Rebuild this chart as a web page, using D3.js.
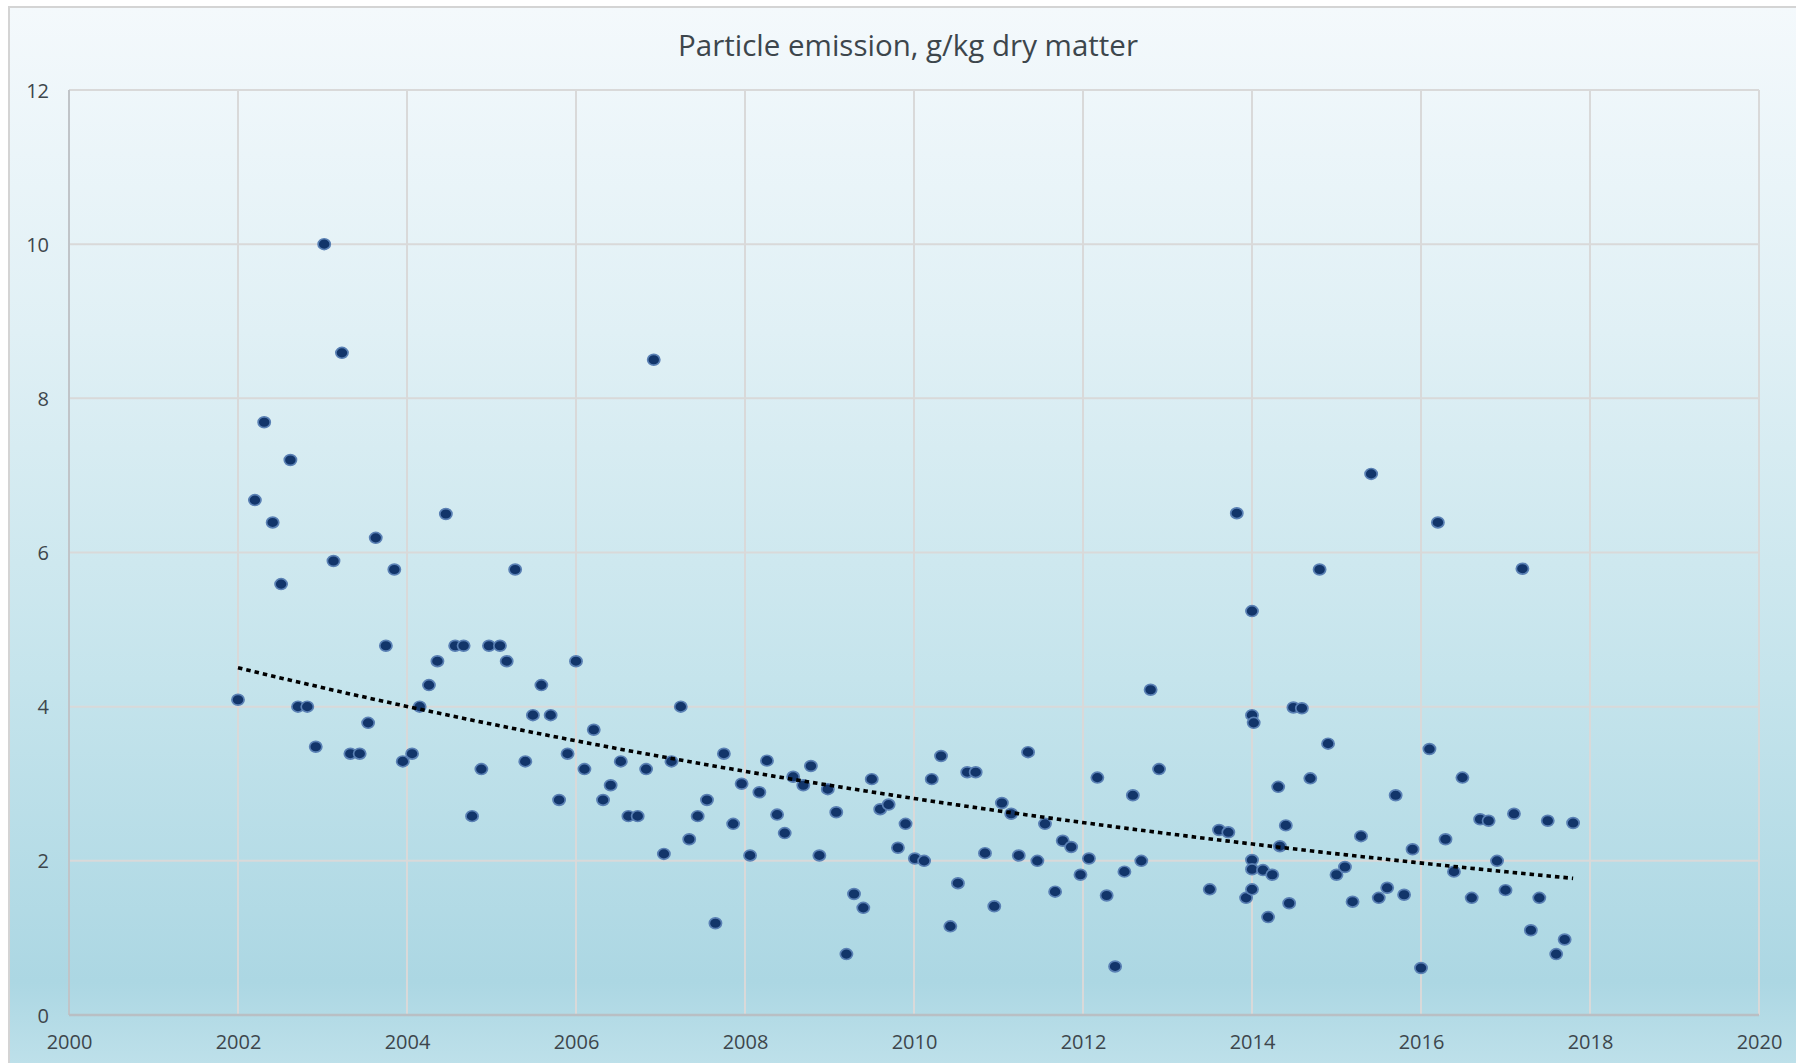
<!DOCTYPE html>
<html>
<head>
<meta charset="utf-8">
<script src="https://cdn.jsdelivr.net/npm/d3@7"></script>
<style>
  html, body { margin: 0; padding: 0; background: #ffffff; }
  svg { display: block; }
</style>
</head>
<body>
<svg id="chart" width="1796" height="1063"></svg>
<script>
// ---------------- DATA ----------------
const chartTitle = "Particle emission, g/kg dry matter";
const xTickLabels = [2000, 2002, 2004, 2006, 2008, 2010, 2012, 2014, 2016, 2018, 2020];
const yTickLabels = [0, 2, 4, 6, 8, 10, 12];

// sample time (decimal year)
const sampleYear = [
  2002.00, 2002.20, 2002.31, 2002.41, 2002.51, 2002.62, 2002.71, 2002.82, 2002.92,
  2003.02, 2003.13, 2003.23, 2003.33, 2003.44, 2003.54, 2003.63, 2003.75, 2003.85, 2003.95,
  2004.06, 2004.15, 2004.26, 2004.36, 2004.46, 2004.57, 2004.67, 2004.77, 2004.88, 2004.97,
  2005.10, 2005.18, 2005.28, 2005.40, 2005.49, 2005.59, 2005.70, 2005.80, 2005.90,
  2006.00, 2006.10, 2006.21, 2006.32, 2006.41, 2006.53, 2006.62, 2006.73, 2006.83, 2006.92,
  2007.04, 2007.13, 2007.24, 2007.34, 2007.44, 2007.55, 2007.65, 2007.75, 2007.86, 2007.96,
  2008.06, 2008.17, 2008.26, 2008.38, 2008.47, 2008.57, 2008.69, 2008.78, 2008.88, 2008.98,
  2009.08, 2009.20, 2009.29, 2009.40, 2009.50, 2009.60, 2009.70, 2009.81, 2009.90,
  2010.01, 2010.12, 2010.21, 2010.32, 2010.43, 2010.52, 2010.63, 2010.73, 2010.84, 2010.95,
  2011.04, 2011.15, 2011.24, 2011.35, 2011.46, 2011.55, 2011.67, 2011.76, 2011.86, 2011.97,
  2012.07, 2012.17, 2012.28, 2012.38, 2012.49, 2012.59, 2012.69, 2012.80, 2012.90,
  2013.50, 2013.61, 2013.72, 2013.82, 2013.93,
  2014.00, 2014.00, 2014.02, 2014.00, 2014.00, 2014.00, 2014.13, 2014.19, 2014.24,
  2014.31, 2014.33, 2014.40, 2014.44, 2014.49, 2014.59, 2014.69, 2014.80, 2014.90,
  2015.00, 2015.10, 2015.19, 2015.29, 2015.41, 2015.50, 2015.60, 2015.70, 2015.80, 2015.90,
  2016.00, 2016.10, 2016.20, 2016.29, 2016.39, 2016.49, 2016.60, 2016.70, 2016.80, 2016.90,
  2017.00, 2017.10, 2017.20, 2017.30, 2017.40, 2017.50, 2017.60, 2017.70, 2017.80
];

// particle emission, g/kg dry matter
const emission = [
  4.09, 6.68, 7.69, 6.39, 5.59, 7.20, 4.00, 4.00, 3.48,
  10.00, 5.89, 8.59, 3.39, 3.39, 3.79, 6.19, 4.79, 5.78, 3.29,
  3.39, 4.00, 4.28, 4.59, 6.50, 4.79, 4.79, 2.58, 3.19, 4.79,
  4.79, 4.59, 5.78, 3.29, 3.89, 4.28, 3.89, 2.79, 3.39,
  4.59, 3.19, 3.70, 2.79, 2.98, 3.29, 2.58, 2.58, 3.19, 8.50,
  2.09, 3.29, 4.00, 2.28, 2.58, 2.79, 1.19, 3.39, 2.48, 3.00,
  2.07, 2.89, 3.30, 2.60, 2.36, 3.09, 2.98, 3.23, 2.07, 2.93,
  2.63, 0.79, 1.57, 1.39, 3.06, 2.67, 2.73, 2.17, 2.48,
  2.03, 2.00, 3.06, 3.36, 1.15, 1.71, 3.15, 3.15, 2.10, 1.41,
  2.75, 2.61, 2.07, 3.41, 2.00, 2.48, 1.60, 2.26, 2.18, 1.82,
  2.03, 3.08, 1.55, 0.63, 1.86, 2.85, 2.00, 4.22, 3.19,
  1.63, 2.40, 2.37, 6.51, 1.52,
  5.24, 3.89, 3.79, 2.01, 1.89, 1.63, 1.88, 1.27, 1.82,
  2.96, 2.19, 2.46, 1.45, 3.99, 3.98, 3.07, 5.78, 3.52,
  1.82, 1.92, 1.47, 2.32, 7.02, 1.52, 1.65, 2.85, 1.56, 2.15,
  0.61, 3.45, 6.39, 2.28, 1.86, 3.08, 1.52, 2.54, 2.52, 2.00,
  1.62, 2.61, 5.79, 1.10, 1.52, 2.52, 0.79, 0.98, 2.49
];

// ---------------- LAYOUT ----------------
const svg = d3.select("#chart");
const W = 1796, H = 1063;
const plot = { left: 69, right: 1759, top: 90, bottom: 1015 };

const defs = svg.append("defs");
const grad = defs.append("linearGradient")
  .attr("id", "bg").attr("x1", 0).attr("y1", 0).attr("x2", 0).attr("y2", 1);
[[0, "#f4f9fc"], [0.3, "#e0f0f5"], [0.62, "#c5e4ec"], [0.9, "#acd7e3"], [1, "#c3e3ec"]]
  .forEach(([o, c]) => grad.append("stop").attr("offset", o).attr("stop-color", c));

// chart area with border (cropped at right/bottom)
svg.append("rect")
  .attr("x", 9).attr("y", 7).attr("width", W + 20).attr("height", H + 20)
  .attr("fill", "url(#bg)")
  .attr("stroke", "#d4d4d4").attr("stroke-width", 2);

const x = d3.scaleLinear().domain([2000, 2020]).range([plot.left, plot.right]);
const y = d3.scaleLinear().domain([0, 12]).range([plot.bottom, plot.top]);

// gridlines
const grid = svg.append("g").attr("class", "grid");
grid.selectAll("line.v").data(xTickLabels.filter(d => d !== 2000)).enter().append("line")
  .attr("x1", d => x(d)).attr("x2", d => x(d))
  .attr("y1", plot.top).attr("y2", plot.bottom)
  .attr("stroke", "#d9d9d9").attr("stroke-width", 2);
grid.selectAll("line.h").data(yTickLabels.filter(d => d !== 0)).enter().append("line")
  .attr("x1", plot.left).attr("x2", plot.right)
  .attr("y1", d => y(d)).attr("y2", d => y(d))
  .attr("stroke", "#d9d9d9").attr("stroke-width", 2);

// axis lines
svg.append("line").attr("x1", plot.left).attr("x2", plot.left)
  .attr("y1", plot.top).attr("y2", plot.bottom)
  .attr("stroke", "#c0c4c8").attr("stroke-width", 2);
svg.append("line").attr("x1", plot.left).attr("x2", plot.right)
  .attr("y1", plot.bottom).attr("y2", plot.bottom)
  .attr("stroke", "#b9bfc4").attr("stroke-width", 2.5);

// axes labels
const fontFamily = "'Open Sans', 'Noto Sans', sans-serif";
const xAxis = d3.axisBottom(x).tickValues(xTickLabels).tickFormat(d3.format("d")).tickSize(0).tickPadding(0);
const gx = svg.append("g").attr("transform", `translate(0, 1042)`).call(xAxis);
gx.select(".domain").remove();
gx.selectAll("text").attr("dy", "0.35em").attr("y", 0)
  .style("font-family", fontFamily).style("font-size", "20px").attr("fill", "#3d464c");

const yAxis = d3.axisLeft(y).tickValues(yTickLabels).tickFormat(d3.format("d")).tickSize(0).tickPadding(0);
const gy = svg.append("g").attr("transform", `translate(49, 0)`).call(yAxis);
gy.select(".domain").remove();
gy.selectAll("text").attr("dy", "0.35em").attr("x", 0)
  .style("font-family", fontFamily).style("font-size", "20px").attr("fill", "#3d464c");

// title
svg.append("text")
  .attr("x", 908).attr("y", 46).attr("dy", "0.35em")
  .attr("text-anchor", "middle")
  .style("font-family", fontFamily).style("font-size", "29.5px")
  .attr("fill", "#3d464c")
  .text(chartTitle);

// data points
const points = sampleYear.map((t, i) => ({ t, v: emission[i] }));
svg.append("g").selectAll("ellipse").data(points).enter().append("ellipse")
  .attr("cx", d => x(d.t)).attr("cy", d => y(d.v))
  .attr("rx", 6.1).attr("ry", 5.4)
  .attr("fill", "#12356a")
  .attr("stroke", "#5a80b4").attr("stroke-width", 1.7);

// exponential trendline (least squares fit on ln(v))
const n = points.length;
const xs = points.map(p => p.t - 2000), ls = points.map(p => Math.log(p.v));
const mx = d3.mean(xs), ml = d3.mean(ls);
let sxy = 0, sxx = 0;
for (let i = 0; i < n; i++) { sxy += (xs[i] - mx) * (ls[i] - ml); sxx += (xs[i] - mx) ** 2; }
const b = sxy / sxx, lnA = ml - b * mx;
const t0 = d3.min(sampleYear), t1 = d3.max(sampleYear);
const trend = d3.range(0, 101).map(k => {
  const t = t0 + (t1 - t0) * k / 100;
  return { t, v: Math.exp(lnA + b * (t - 2000)) };
});
svg.append("path").datum(trend)
  .attr("d", d3.line().x(d => x(d.t)).y(d => y(d.v)))
  .attr("fill", "none").attr("stroke", "#000").attr("stroke-width", 3.6)
  .attr("stroke-dasharray", "4.5,4");
</script>
</body>
</html>
